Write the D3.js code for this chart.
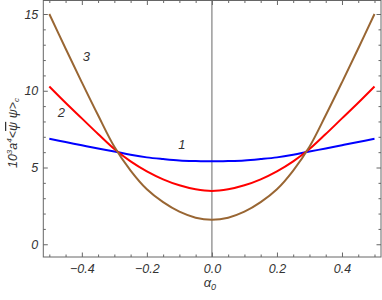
<!DOCTYPE html>
<meta charset="utf-8">
<script src="https://d3js.org/d3.v7.min.js"></script>
<style>
  body { margin: 0; background: #fff; }
  text { font-family: "Liberation Sans", Arial, sans-serif; font-style: italic; fill: #333; }
</style>
<div id="my_dataviz"></div>
<script>

// alpha_0 sample points and curve values
var alpha = [-0.5, -0.45, -0.4, -0.35, -0.3, -0.25, -0.2, -0.15, -0.1, -0.05, 0,
             0.05, 0.1, 0.15, 0.2, 0.25, 0.3, 0.35, 0.4, 0.45, 0.5];
var curve1 = [6.87, 6.66, 6.45, 6.24, 6.04, 5.83, 5.66, 5.55, 5.46, 5.42, 5.40,
              5.42, 5.46, 5.55, 5.66, 5.83, 6.04, 6.24, 6.45, 6.66, 6.87];
var curve2 = [10.28, 9.22, 8.2, 7.18, 6.2, 5.4, 4.75, 4.23, 3.84, 3.58, 3.47,
              3.58, 3.84, 4.23, 4.75, 5.4, 6.2, 7.18, 8.2, 9.22, 10.28];
var curve3 = [15.0, 12.75, 10.55, 8.4, 6.35, 4.8, 3.58, 2.74, 2.12, 1.73, 1.60,
              1.73, 2.12, 2.74, 3.58, 4.8, 6.35, 8.4, 10.55, 12.75, 15.0];
var curveNames = ["1", "2", "3"];
var curveColors = ["#0000ff", "#ff0000", "#996633"];

var xMajor = [-0.4, -0.2, 0, 0.2, 0.4];
var xMinor = [-0.5, -0.45, -0.35, -0.3, -0.25, -0.15, -0.1, -0.05, 0.05, 0.1, 0.15, 0.25, 0.3, 0.35, 0.45, 0.5];
var yMajor = [0, 5, 10, 15];
var yMinor = [1, 2, 3, 4, 6, 7, 8, 9, 11, 12, 13, 14];

var W = 382, H = 300;
var margin = {top: 0.5, right: 1, bottom: 43, left: 43.3};

var svg = d3.select("#my_dataviz")
  .append("svg")
    .attr("width", W)
    .attr("height", H);

var x = d3.scaleLinear()
  .domain([-0.5185, 0.52])
  .range([margin.left, W - margin.right]);

var y = d3.scaleLinear()
  .domain([-0.83, 15.88])
  .range([H - margin.bottom, margin.top]);

// zero line
svg.append("line")
  .attr("x1", x(0)).attr("x2", x(0))
  .attr("y1", y.range()[0]).attr("y2", y.range()[1])
  .attr("stroke", "#808080")
  .attr("stroke-width", 1.2);

// curves
var line = d3.line()
  .x(function(d, i) { return x(alpha[i]); })
  .y(function(d) { return y(d); })
  .curve(d3.curveCatmullRom);

[curve1, curve2, curve3].forEach(function(c, k) {
  svg.append("path")
    .attr("d", line(c))
    .attr("fill", "none")
    .attr("stroke", curveColors[k])
    .attr("stroke-width", 2);
});

// curve labels (centre positions in data units)
var labelPos = [[-0.092, 6.2], [-0.463, 8.3], [-0.386, 11.95]];
labelPos.forEach(function(p, k) {
  svg.append("text")
    .attr("x", x(p[0]))
    .attr("y", y(p[1]))
    .attr("text-anchor", "middle")
    .attr("font-size", 13)
    .text(curveNames[k]);
});

// frame
svg.append("rect")
  .attr("x", x.range()[0]).attr("y", y.range()[1])
  .attr("width", x.range()[1] - x.range()[0])
  .attr("height", y.range()[0] - y.range()[1])
  .attr("fill", "none")
  .attr("stroke", "#666")
  .attr("stroke-width", 1);

function frameAxis(axis, transform, values, size, labels) {
  var g = svg.append("g")
    .attr("transform", transform)
    .call(axis.tickValues(values).tickSize(size).tickPadding(6)
      .tickFormat(labels ? labels : function() { return ""; }));
  g.select(".domain").remove();
  g.selectAll(".tick line").attr("stroke", "#666");
  g.selectAll(".tick text")
    .attr("font-size", 12.5)
    .attr("fill", "#333")
    .attr("font-family", null);
  return g;
}

var fmtX = function(d) { return d === 0 ? "0.0" : d3.format(".1f")(d).replace("-", "\u2212"); };
var fmtY = function(d) { return d; };

// bottom / top
var bx = frameAxis(d3.axisBottom(x), "translate(0," + y.range()[0] + ")", xMajor, -4.5, fmtX);
bx.selectAll(".tick text").attr("y", 7).attr("dy", "0.71em");
frameAxis(d3.axisBottom(x), "translate(0," + y.range()[0] + ")", xMinor, -2.5);
frameAxis(d3.axisTop(x), "translate(0," + y.range()[1] + ")", xMajor, -4.5);
frameAxis(d3.axisTop(x), "translate(0," + y.range()[1] + ")", xMinor, -2.5);

// left / right
var ly = frameAxis(d3.axisLeft(y), "translate(" + x.range()[0] + ",0)", yMajor, -4.5, fmtY);
ly.selectAll(".tick text").attr("x", -5);
frameAxis(d3.axisLeft(y), "translate(" + x.range()[0] + ",0)", yMinor, -2.5);
frameAxis(d3.axisRight(y), "translate(" + x.range()[1] + ",0)", yMajor, -4.5);
frameAxis(d3.axisRight(y), "translate(" + x.range()[1] + ",0)", yMinor, -2.5);

// x axis title: alpha_0
var xt = svg.append("text")
  .attr("x", x(0) - 2)
  .attr("y", 287)
  .attr("text-anchor", "middle")
  .attr("font-size", 13);
xt.append("tspan").text("\u03b1");
xt.append("tspan").attr("font-size", 9).attr("dy", 3).text("0");

// y axis title: 10^3 a^4 <psi-bar psi>_c
var yt = svg.append("text")
  .attr("transform", "translate(17," + 133 + ") rotate(-90)")
  .attr("text-anchor", "middle")
  .attr("font-size", 12.5);
yt.append("tspan").text("10");
yt.append("tspan").attr("font-size", 8).attr("dy", -5).text("3");
yt.append("tspan").attr("dy", 5).text("a");
yt.append("tspan").attr("font-size", 8).attr("dy", -5).text("4");
yt.append("tspan").attr("dy", 5).text("<");
yt.append("tspan").style("text-decoration", "overline").text("\u03c8");
yt.append("tspan").text(" \u03c8>");
yt.append("tspan").attr("font-size", 8).attr("dy", 2).text("c");

</script>
